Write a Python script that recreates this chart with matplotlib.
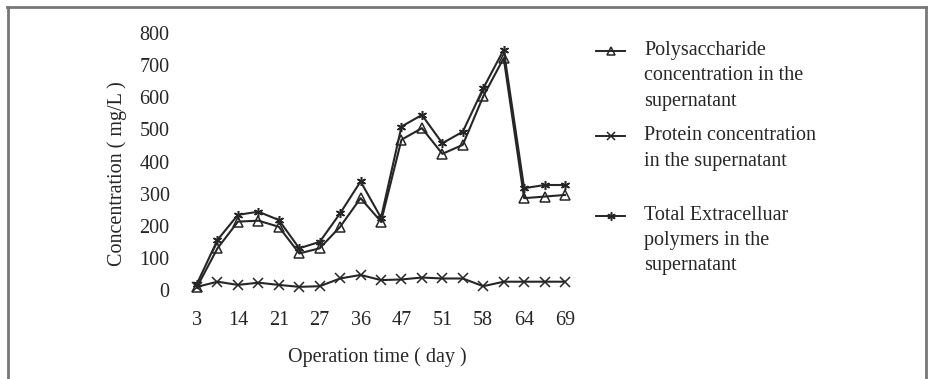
import matplotlib.pyplot as plt
from matplotlib.lines import Line2D

plt.rcParams['font.family'] = ['Liberation Serif', 'DejaVu Serif']

# sampling days (every other one is labelled on the axis)
tick_labels = ['3', '14', '21', '27', '36', '47', '51', '58', '64', '69']
n_points = 19

polysaccharide = [10, 130, 213, 216, 197, 114, 130, 197, 286, 213,
                  468, 504, 424, 452, 603, 722, 286, 291, 296]
protein = [10, 26, 16, 23, 16, 10, 12, 36, 47, 31,
           33, 39, 36, 36, 12, 26, 26, 26, 26]
total_eps = [20, 156, 234, 244, 218, 130, 150, 239, 338, 225,
             509, 545, 457, 493, 628, 748, 317, 327, 327]

series = [
    (polysaccharide, '^', 'Polysaccharide\nconcentration in the\nsupernatant'),
    (protein, 'x', 'Protein concentration\nin the supernatant'),
    (total_eps, (6, 2, 0), 'Total Extracelluar\npolymers in the\nsupernatant'),
]

ink = '#262626'
fs = 14.5
fig = plt.figure(figsize=(9.3, 3.79), dpi=100)
ax = fig.add_axes([0.1989, 0.2084, 0.4247, 0.7256])

x = list(range(n_points))
for values, marker, label in series:
    ax.plot(x, values, color=ink, lw=1.5, marker=marker, ms=6.5,
            mfc='none', mec=ink, mew=1.1)

ax.set_xlim(-0.59, 18.73)
ax.set_ylim(-31, 825)
ax.set_xticks(range(0, n_points, 2))
ax.set_xticklabels(tick_labels)
ax.set_yticks(range(0, 801, 100))
for s in ax.spines.values():
    s.set_visible(False)
ax.tick_params(length=0, labelsize=fs, colors=ink)
ax.tick_params(axis='y', pad=11)
ax.tick_params(axis='x', pad=8)
ax.set_xlabel('Operation time ( day )', fontsize=fs, color=ink)
ax.set_ylabel('Concentration ( mg/L )', fontsize=fs, color=ink)
ax.xaxis.set_label_coords(0.486, -0.17)
ax.yaxis.set_label_coords(-0.147, 0.46)

# hand-placed legend on the right
legend_y = [0.865, 0.64, 0.43]
for (values, marker, label), yy in zip(series, legend_y):
    fig.add_artist(Line2D([0.641, 0.672], [yy, yy], color=ink, lw=1.4,
                          transform=fig.transFigure))
    fig.add_artist(Line2D([0.657], [yy], color=ink, marker=marker, ms=6,
                          mfc='none', mec=ink, mew=1.1,
                          transform=fig.transFigure))
    fig.text(0.693, yy + 0.027, label, fontsize=fs, color=ink, va='top',
             ha='left', linespacing=1.45, transform=fig.transFigure)

# frame around the figure (top, left, right)
frame = dict(color='#777777', lw=2, transform=fig.transFigure)
fig.add_artist(Line2D([0.008, 0.996], [0.982, 0.982], **frame))
fig.add_artist(Line2D([0.009, 0.009], [0.0, 0.982], **frame))
fig.add_artist(Line2D([0.996, 0.996], [0.0, 0.982], **frame))

fig.savefig('out.png', dpi=100)
